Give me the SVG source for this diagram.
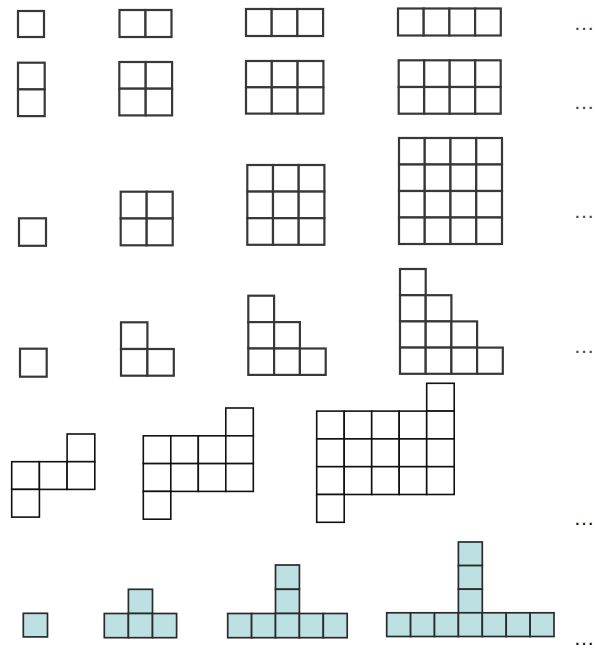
<svg xmlns="http://www.w3.org/2000/svg" width="595" height="650" viewBox="0 0 595 650">
<style>
.a rect{fill:#fff;stroke:#383838;stroke-width:2.2}
.b rect{fill:#fff;stroke:#111;stroke-width:1.6}
.c rect{fill:#bde0e3;stroke:#2b2b2b;stroke-width:1.7}
.d{font-family:"Liberation Sans",Arial,sans-serif;font-size:21px;fill:#444}
.e{font-family:"Liberation Sans",Arial,sans-serif;font-size:21px;fill:#111}
</style>
<rect width="595" height="650" fill="#fff"/>
<g class="a">
<g id="r1c1"><rect x="18" y="11" width="26" height="26"/></g>
<g id="r1c2"><rect x="119.5" y="10" width="26" height="27"/><rect x="145.5" y="10" width="26" height="27"/></g>
<g id="r1c3"><rect x="246" y="9" width="25.7" height="27"/><rect x="271.7" y="9" width="25.7" height="27"/><rect x="297.4" y="9" width="25.7" height="27"/></g>
<g id="r1c4"><rect x="398" y="8.5" width="25.7" height="27"/><rect x="423.7" y="8.5" width="25.7" height="27"/><rect x="449.4" y="8.5" width="25.7" height="27"/><rect x="475.1" y="8.5" width="25.7" height="27"/></g>

<g id="r2c1"><rect x="18" y="62.7" width="26.7" height="26.7"/><rect x="18" y="89.4" width="26.7" height="26.7"/></g>
<g id="r2c2"><rect x="119.3" y="62" width="26.4" height="26.7"/><rect x="145.7" y="62" width="26.4" height="26.7"/><rect x="119.3" y="88.7" width="26.4" height="26.7"/><rect x="145.7" y="88.7" width="26.4" height="26.7"/></g>
<g id="r2c3"><rect x="246" y="61" width="25.8" height="26.3"/><rect x="271.8" y="61" width="25.8" height="26.3"/><rect x="297.6" y="61" width="25.8" height="26.3"/><rect x="246" y="87.3" width="25.8" height="26.3"/><rect x="271.8" y="87.3" width="25.8" height="26.3"/><rect x="297.6" y="87.3" width="25.8" height="26.3"/></g>
<g id="r2c4"><rect x="398.7" y="60.3" width="25.5" height="26.7"/><rect x="424.2" y="60.3" width="25.5" height="26.7"/><rect x="449.7" y="60.3" width="25.5" height="26.7"/><rect x="475.2" y="60.3" width="25.5" height="26.7"/><rect x="398.7" y="87" width="25.5" height="26.7"/><rect x="424.2" y="87" width="25.5" height="26.7"/><rect x="449.7" y="87" width="25.5" height="26.7"/><rect x="475.2" y="87" width="25.5" height="26.7"/></g>

<g id="r3c1"><rect x="19" y="218.3" width="27" height="27.5"/></g>
<g id="r3c2"><rect x="120.7" y="191.7" width="26" height="26.8"/><rect x="146.7" y="191.7" width="26" height="26.8"/><rect x="120.7" y="218.5" width="26" height="26.8"/><rect x="146.7" y="218.5" width="26" height="26.8"/></g>
<g id="r3c3">
<rect x="247.3" y="165" width="25.7" height="26.6"/><rect x="273" y="165" width="25.7" height="26.6"/><rect x="298.7" y="165" width="25.7" height="26.6"/>
<rect x="247.3" y="191.6" width="25.7" height="26.6"/><rect x="273" y="191.6" width="25.7" height="26.6"/><rect x="298.7" y="191.6" width="25.7" height="26.6"/>
<rect x="247.3" y="218.2" width="25.7" height="26.6"/><rect x="273" y="218.2" width="25.7" height="26.6"/><rect x="298.7" y="218.2" width="25.7" height="26.6"/>
</g>
<g id="r3c4">
<rect x="399" y="138" width="25.75" height="26.5"/><rect x="424.75" y="138" width="25.75" height="26.5"/><rect x="450.5" y="138" width="25.75" height="26.5"/><rect x="476.25" y="138" width="25.75" height="26.5"/>
<rect x="399" y="164.5" width="25.75" height="26.5"/><rect x="424.75" y="164.5" width="25.75" height="26.5"/><rect x="450.5" y="164.5" width="25.75" height="26.5"/><rect x="476.25" y="164.5" width="25.75" height="26.5"/>
<rect x="399" y="191" width="25.75" height="26.5"/><rect x="424.75" y="191" width="25.75" height="26.5"/><rect x="450.5" y="191" width="25.75" height="26.5"/><rect x="476.25" y="191" width="25.75" height="26.5"/>
<rect x="399" y="217.5" width="25.75" height="26.5"/><rect x="424.75" y="217.5" width="25.75" height="26.5"/><rect x="450.5" y="217.5" width="25.75" height="26.5"/><rect x="476.25" y="217.5" width="25.75" height="26.5"/>
</g>

<g id="r4c1"><rect x="20" y="348.7" width="26.7" height="28"/></g>
<g id="r4c2"><rect x="121" y="322.3" width="26.4" height="26.7"/><rect x="121" y="349" width="26.4" height="26.7"/><rect x="147.4" y="349" width="26.4" height="26.7"/></g>
<g id="r4c3">
<rect x="248.3" y="295.7" width="25.8" height="26.4"/>
<rect x="248.3" y="322.1" width="25.8" height="26.4"/><rect x="274.1" y="322.1" width="25.8" height="26.4"/>
<rect x="248.3" y="348.5" width="25.8" height="26.4"/><rect x="274.1" y="348.5" width="25.8" height="26.4"/><rect x="299.9" y="348.5" width="25.8" height="26.4"/>
</g>
<g id="r4c4">
<rect x="400" y="269" width="25.7" height="26.2"/>
<rect x="400" y="295.2" width="25.7" height="26.2"/><rect x="425.7" y="295.2" width="25.7" height="26.2"/>
<rect x="400" y="321.4" width="25.7" height="26.2"/><rect x="425.7" y="321.4" width="25.7" height="26.2"/><rect x="451.4" y="321.4" width="25.7" height="26.2"/>
<rect x="400" y="347.6" width="25.7" height="26.2"/><rect x="425.7" y="347.6" width="25.7" height="26.2"/><rect x="451.4" y="347.6" width="25.7" height="26.2"/><rect x="477.1" y="347.6" width="25.7" height="26.2"/>
</g>
</g>

<g class="b">
<g id="r5c1">
<rect x="67.1" y="434" width="27.7" height="27.7"/>
<rect x="11.7" y="461.7" width="27.7" height="27.7"/><rect x="39.4" y="461.7" width="27.7" height="27.7"/><rect x="67.1" y="461.7" width="27.7" height="27.7"/>
<rect x="11.7" y="489.4" width="27.7" height="27.7"/>
</g>
<g id="r5c2">
<rect x="225.8" y="408" width="27.5" height="27.8"/>
<rect x="143.3" y="435.8" width="27.5" height="27.8"/><rect x="170.8" y="435.8" width="27.5" height="27.8"/><rect x="198.3" y="435.8" width="27.5" height="27.8"/><rect x="225.8" y="435.8" width="27.5" height="27.8"/>
<rect x="143.3" y="463.6" width="27.5" height="27.8"/><rect x="170.8" y="463.6" width="27.5" height="27.8"/><rect x="198.3" y="463.6" width="27.5" height="27.8"/><rect x="225.8" y="463.6" width="27.5" height="27.8"/>
<rect x="143.3" y="491.4" width="27.5" height="27.8"/>
</g>
<g id="r5c3">
<rect x="426.7" y="383.3" width="27.5" height="27.8"/>
<rect x="316.7" y="411.1" width="27.5" height="27.8"/><rect x="344.2" y="411.1" width="27.5" height="27.8"/><rect x="371.7" y="411.1" width="27.5" height="27.8"/><rect x="399.2" y="411.1" width="27.5" height="27.8"/><rect x="426.7" y="411.1" width="27.5" height="27.8"/>
<rect x="316.7" y="438.9" width="27.5" height="27.8"/><rect x="344.2" y="438.9" width="27.5" height="27.8"/><rect x="371.7" y="438.9" width="27.5" height="27.8"/><rect x="399.2" y="438.9" width="27.5" height="27.8"/><rect x="426.7" y="438.9" width="27.5" height="27.8"/>
<rect x="316.7" y="466.7" width="27.5" height="27.8"/><rect x="344.2" y="466.7" width="27.5" height="27.8"/><rect x="371.7" y="466.7" width="27.5" height="27.8"/><rect x="399.2" y="466.7" width="27.5" height="27.8"/><rect x="426.7" y="466.7" width="27.5" height="27.8"/>
<rect x="316.7" y="494.5" width="27.5" height="27.8"/>
</g>
</g>

<g class="c">
<g id="r6c1"><rect x="23.3" y="613.3" width="24.2" height="23.6"/></g>
<g id="r6c2">
<rect x="128.4" y="589.3" width="24.1" height="24.2"/>
<rect x="104.3" y="613.5" width="24.1" height="24.2"/><rect x="128.4" y="613.5" width="24.1" height="24.2"/><rect x="152.5" y="613.5" width="24.1" height="24.2"/>
</g>
<g id="r6c3">
<rect x="275.5" y="565" width="23.9" height="24.3"/>
<rect x="275.5" y="589.3" width="23.9" height="24.2"/>
<rect x="227.7" y="613.5" width="23.9" height="24.2"/><rect x="251.6" y="613.5" width="23.9" height="24.2"/><rect x="275.5" y="613.5" width="23.9" height="24.2"/><rect x="299.4" y="613.5" width="23.9" height="24.2"/><rect x="323.3" y="613.5" width="23.9" height="24.2"/>
</g>
<g id="r6c4">
<rect x="458.4" y="542" width="23.9" height="23.6"/>
<rect x="458.4" y="565.6" width="23.9" height="23.6"/>
<rect x="458.4" y="589.2" width="23.9" height="23.6"/>
<rect x="386.7" y="612.8" width="23.9" height="23.7"/><rect x="410.6" y="612.8" width="23.9" height="23.7"/><rect x="434.5" y="612.8" width="23.9" height="23.7"/><rect x="458.4" y="612.8" width="23.9" height="23.7"/><rect x="482.3" y="612.8" width="23.9" height="23.7"/><rect x="506.2" y="612.8" width="23.9" height="23.7"/><rect x="530.1" y="612.8" width="23.9" height="23.7"/>
</g>
</g>

<g id="dots">
<text class="d" x="573.5" y="30.1">…</text>
<text class="d" x="573.5" y="109.4">…</text>
<text class="d" x="573.5" y="218.4">…</text>
<text class="d" x="573.5" y="352.8">…</text>
<text class="e" x="573.5" y="525.4">…</text>
<text class="e" x="573.5" y="644.5">…</text>
</g>
</svg>
